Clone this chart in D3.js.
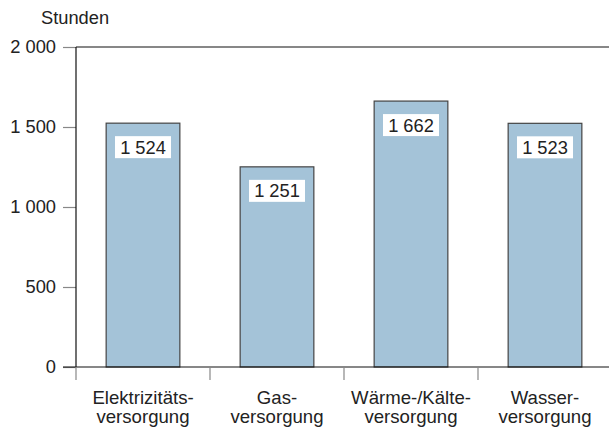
<!DOCTYPE html>
<html>
<head>
<meta charset="utf-8">
<script src="https://cdn.jsdelivr.net/npm/d3@7"></script>
<style>
  html, body { margin: 0; padding: 0; background: #fff; overflow: hidden; }
  svg { display: block; }
  text { font-family: "Liberation Sans", Arial, sans-serif; fill: #222; }
</style>
</head>
<body>
<svg></svg>
<script>
// Daten
const categories = [["Elektrizitäts-", "versorgung"], ["Gas-", "versorgung"], ["Wärme-/Kälte-", "versorgung"], ["Wasser-", "versorgung"]];
const values = [1524, 1251, 1662, 1523];
const yTicks = [0, 500, 1000, 1500, 2000];

const width = 609;
const height = 429;
const margin = { top: 47, right: -3, bottom: 62, left: 76 };
const innerWidth = width - margin.left - margin.right;
const innerHeight = height - margin.top - margin.bottom;

const de = d3.formatLocale({ decimal: ",", thousands: " ", grouping: [3], currency: ["", " €"] });
const fmt = de.format(",d");

const svg = d3.select("svg")
    .attr("width", width)
    .attr("height", height);

const g = svg.append("g")
    .attr("transform", `translate(${margin.left},${margin.top})`);

// Scale
const xScale = d3.scaleBand()
    .domain(d3.range(values.length))
    .range([0, innerWidth])
    .paddingInner(0.45)
    .paddingOuter(0.225);

const yScale = d3.scaleLinear()
    .domain([0, 2000])
    .range([innerHeight, 0]);

// Rahmen oben
g.append("line")
    .attr("x1", 0).attr("x2", innerWidth + 3)
    .attr("y1", 0).attr("y2", 0)
    .attr("stroke", "#111").attr("stroke-width", 1.2);

// Y-Achse
const yAxis = d3.axisLeft(yScale)
    .tickValues(yTicks)
    .tickSize(13)
    .tickPadding(7)
    .tickFormat(fmt);

g.append("g")
    .attr("class", "y-axis")
    .call(yAxis)
    .attr("font-size", null)
    .attr("font-family", null)
    .call(s => s.select(".domain").remove())
    .call(s => s.selectAll(".tick line").attr("stroke", "#888").attr("stroke-width", 1.2))
    .call(s => s.selectAll(".tick text").style("font-size", "18.3px").attr("fill", "#222"));

g.append("line")
    .attr("x1", 0).attr("x2", 0)
    .attr("y1", 0).attr("y2", innerHeight)
    .attr("stroke", "#111").attr("stroke-width", 1.2);

// Balken
const bars = g.selectAll(".bar")
    .data(values)
    .enter()
    .append("g")
    .attr("class", "bar");

bars.append("rect")
    .attr("x", (d, i) => xScale(i))
    .attr("y", d => yScale(d))
    .attr("width", xScale.bandwidth())
    .attr("height", d => innerHeight - yScale(d))
    .attr("fill", "#a4c3d8")
    .attr("stroke", "#444")
    .attr("stroke-width", 1.2);

bars.append("rect")
    .attr("x", (d, i) => xScale(i) + xScale.bandwidth() / 2 - 28)
    .attr("y", d => yScale(d) + 13)
    .attr("width", 56)
    .attr("height", 22)
    .attr("fill", "#fff");

bars.append("text")
    .attr("x", (d, i) => xScale(i) + xScale.bandwidth() / 2)
    .attr("y", d => yScale(d) + 30.5)
    .attr("text-anchor", "middle")
    .style("font-size", "18.3px")
    .text(d => fmt(d));

// X-Achse
g.append("line")
    .attr("x1", -13).attr("x2", innerWidth + 3)
    .attr("y1", innerHeight).attr("y2", innerHeight)
    .attr("stroke", "#111").attr("stroke-width", 1.2);

const step = xScale.step();
g.selectAll(".xtick")
    .data(d3.range(values.length + 1))
    .enter()
    .append("line")
    .attr("x1", d => d * step).attr("x2", d => d * step)
    .attr("y1", innerHeight).attr("y2", innerHeight + 13)
    .attr("stroke", "#888").attr("stroke-width", 1.2);

// zweizeilige Beschriftung, je Zeile ein eigenes text-Element
const labelGroups = g.selectAll(".xlabel")
    .data(categories)
    .enter()
    .append("g")
    .attr("class", "xlabel")
    .attr("transform", (d, i) => `translate(${xScale(i) + xScale.bandwidth() / 2},${innerHeight + 37})`);

labelGroups.selectAll("text")
    .data(d => d)
    .enter()
    .append("text")
    .attr("x", 0)
    .attr("y", (d, i) => i * 19)
    .attr("text-anchor", "middle")
    .style("font-size", "18.6px")
    .text(d => d);

// Einheit
svg.append("text")
    .attr("x", 41)
    .attr("y", 24)
    .style("font-size", "18.3px")
    .text("Stunden");
</script>
</body>
</html>
